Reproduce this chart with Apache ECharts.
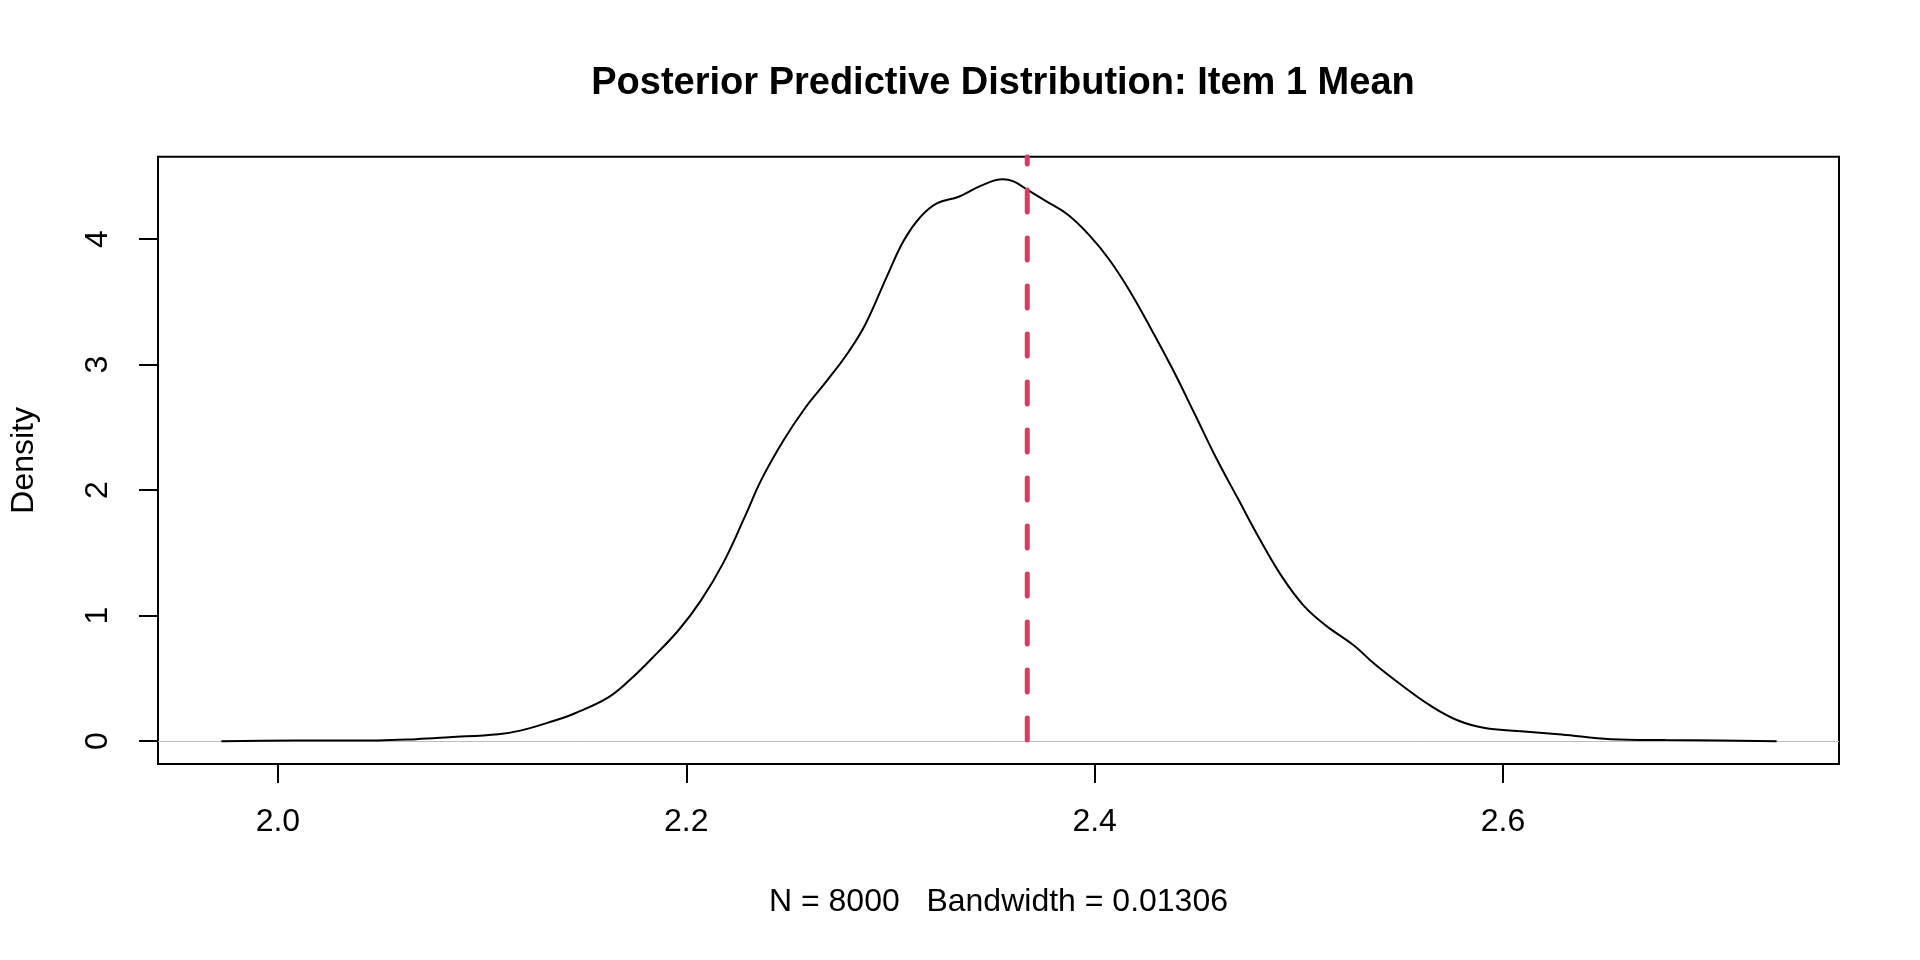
<!DOCTYPE html>
<html>
<head>
<meta charset="utf-8">
<script src="https://cdn.jsdelivr.net/npm/echarts@6/dist/echarts.min.js"></script>
<style>
html,body{margin:0;padding:0;background:#fff;}
#chart{width:1920px;height:960px;}
</style>
</head>
<body>
<div id="chart"></div>
<script>
const titleText = "Posterior Predictive Distribution: Item 1 Mean";
const xAxisTitle = "N = 8000   Bandwidth = 0.01306";
const yAxisTitle = "Density";

const xTickValues = [2.0, 2.2, 2.4, 2.6];
const xTickLabels = ["2.0", "2.2", "2.4", "2.6"];
const yTickValues = [0, 1, 2, 3, 4];
const yTickLabels = ["0", "1", "2", "3", "4"];

const densityX = [1.9723, 2.0086, 2.0489, 2.0677, 2.0838, 2.108, 2.1187, 2.1348, 2.1455, 2.1616,
  2.1723, 2.183, 2.1965, 2.2072, 2.218, 2.2287, 2.2368, 2.2475, 2.2583, 2.269,
  2.2797, 2.2878, 2.2985, 2.3066, 2.3147, 2.3227, 2.3334, 2.3442, 2.355, 2.3603,
  2.367, 2.3764, 2.3871, 2.3979, 2.4072, 2.4166, 2.4274, 2.4381, 2.4489, 2.4596,
  2.4703, 2.4811, 2.4918, 2.5026, 2.5133, 2.5267, 2.5374, 2.5509, 2.5643, 2.5777,
  2.5911, 2.6072, 2.6287, 2.6529, 2.6797, 2.7066, 2.734];
const densityY = [0, 0.006, 0.006, 0.016, 0.031, 0.056, 0.084, 0.161, 0.223, 0.347,
  0.487, 0.657, 0.890, 1.122, 1.417, 1.789, 2.084, 2.394, 2.657, 2.874,
  3.107, 3.324, 3.712, 3.991, 4.177, 4.285, 4.338, 4.425, 4.477, 4.46,
  4.394, 4.301, 4.192, 4.022, 3.836, 3.603, 3.293, 2.967, 2.611, 2.254,
  1.929, 1.603, 1.309, 1.076, 0.921, 0.766, 0.611, 0.440, 0.285, 0.167,
  0.105, 0.081, 0.053, 0.016, 0.009, 0.006, 0];

const observedMean = 2.367;

const xMin = 1.94127, xMax = 2.76456;
const yMin = -0.1817, yMax = 4.657;

const FONT = "'Liberation Sans', Arial, Helvetica, sans-serif";

const chart = echarts.init(document.getElementById('chart'), null, {renderer: 'canvas'});

const curveData = densityX.map((x, i) => [x, densityY[i]]);

chart.setOption({
  backgroundColor: '#ffffff',
  animation: false,
  title: {
    text: titleText,
    left: 998,
    textAlign: 'center',
    top: 60,
    textStyle: {fontFamily: FONT, fontWeight: 'bold', fontSize: 38, color: '#000'}
  },
  grid: {
    left: 156.7, top: 156.7, right: 81, bottom: 196,
    show: true, borderColor: '#000', borderWidth: 2, backgroundColor: 'transparent'
  },
  xAxis: {
    type: 'value',
    min: xMin, max: xMax,
    name: xAxisTitle,
    nameLocation: 'middle',
    nameGap: 122,
    nameTextStyle: {fontFamily: FONT, fontSize: 32, color: '#000'},
    axisLine: {show: false, onZero: false},
    splitLine: {show: false},
    axisTick: {show: true, inside: false, length: 19, customValues: xTickValues,
      lineStyle: {color: '#000', width: 2}},
    axisLabel: {show: true, customValues: xTickValues, margin: 42,
      fontFamily: FONT, fontSize: 32, color: '#000',
      formatter: v => xTickLabels[xTickValues.findIndex(t => Math.abs(t - v) < 1e-9)] ?? ''}
  },
  yAxis: {
    type: 'value',
    min: yMin, max: yMax,
    name: yAxisTitle,
    nameLocation: 'middle',
    nameRotate: 90,
    nameGap: 118,
    nameTextStyle: {fontFamily: FONT, fontSize: 32, color: '#000'},
    axisLine: {show: false, onZero: false},
    splitLine: {show: false},
    axisTick: {show: true, inside: false, length: 19, customValues: yTickValues,
      lineStyle: {color: '#000', width: 2}},
    axisLabel: {show: true, customValues: yTickValues, rotate: 90, margin: 44,
      fontFamily: FONT, fontSize: 32, color: '#000',
      formatter: v => yTickLabels[yTickValues.findIndex(t => Math.abs(t - v) < 1e-9)] ?? ''}
  },
  series: [
    {
      type: 'line',
      data: curveData,
      showSymbol: false,
      smooth: 0.4,
      lineStyle: {color: '#000', width: 2},
      z: 3,
      markLine: {
        silent: true,
        symbol: 'none',
        label: {show: false},
        lineStyle: {color: '#BEBEBE', width: 1, type: 'solid'},
        data: [{yAxis: 0}],
        z: 1
      }
    },
    {
      type: 'line',
      data: [[observedMean, yMax], [observedMean, yMin]],
      showSymbol: false,
      lineStyle: {color: '#DA3B5E', width: 5, type: [22, 26], dashOffset: 14.8, cap: 'round'},
      z: 4
    }
  ]
});
</script>
</body>
</html>
